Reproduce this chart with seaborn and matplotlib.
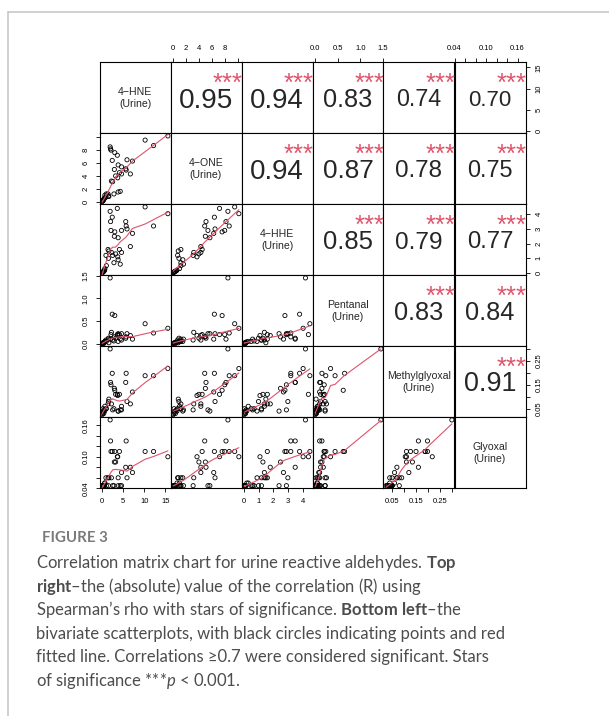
import numpy as np
import pandas as pd
import seaborn as sns
import matplotlib
matplotlib.use("Agg")
import matplotlib.pyplot as plt
from matplotlib.lines import Line2D

# urine aldehyde levels, one entry per sample
hne = [0.0, 0.1, 0.2, 0.3, 0.4, 0.5, 0.6, 0.2, 0.65, 0.9, 1.4, 1.5, 1.9, 2.0, 2.1, 2.2, 2.4, 2.5, 2.9, 3.0,
       3.2, 3.6, 3.7, 3.8, 3.8, 4.1, 4.6, 4.6, 5.6, 5.7, 5.9, 6.7, 7.2, 10.2, 12.2, 15.6, 1.0, 2.8, 4.3, 1.6]
one = [0.0, 0.1, 0.2, 0.3, 0.35, 0.5, 0.6, 0.15, 1.0, 0.7, 1.2, 0.9, 8.5, 8.2, 8.0, 3.2, 6.4, 3.1, 5.0, 7.6,
       4.0, 7.2, 3.7, 5.7, 1.5, 4.5, 5.4, 4.3, 5.1, 4.9, 6.5, 4.3, 6.3, 9.55, 8.7, 10.2, 1.2, 1.2, 1.6, 0.8]
hhe = [0.02, 0.05, 0.08, 0.10, 0.12, 0.15, 0.20, 0.05, 0.3, 1.2, 1.6, 1.0, 4.2, 3.5, 2.9, 1.4, 3.8, 1.2, 2.5, 2.8,
       1.3, 4.4, 1.1, 2.4, 0.9, 1.6, 2.9, 1.4, 3.5, 3.2, 3.0, 1.8, 2.7, 4.5, 3.2, 4.04, 0.5, 0.7, 0.6, 1.5]
pent = [0.0, 0.01, 0.02, 0.0, 0.03, 0.02, 0.04, 0.01, 0.05, 0.08, 0.10, 0.12, 1.45, 0.10, 0.20, 0.25, 0.65, 0.08, 0.15, 0.62,
        0.12, 0.20, 0.18, 0.22, 0.05, 0.20, 0.22, 0.08, 0.12, 0.15, 0.22, 0.18, 0.10, 0.44, 0.235, 0.34, 0.05, 0.06, 0.10, 0.02]
mgly = [0.025, 0.030, 0.035, 0.040, 0.030, 0.045, 0.040, 0.050, 0.06, 0.05, 0.07, 0.08, 0.30, 0.16, 0.15, 0.07, 0.198, 0.045, 0.135, 0.127,
        0.11, 0.11, 0.105, 0.04, 0.04, 0.11, 0.045, 0.06, 0.16, 0.198, 0.08, 0.07, 0.12, 0.188, 0.188, 0.218, 0.05, 0.05, 0.045, 0.09]
gly = [0.045, 0.045, 0.045, 0.045, 0.045, 0.045, 0.05, 0.045, 0.05, 0.06, 0.06, 0.045, 0.17, 0.13, 0.11, 0.06, 0.11, 0.045, 0.09, 0.11,
       0.09, 0.10, 0.10, 0.045, 0.06, 0.11, 0.045, 0.07, 0.08, 0.13, 0.06, 0.08, 0.07, 0.11, 0.11, 0.10, 0.045, 0.045, 0.045, 0.06]

names = ["4\u2212HNE", "4\u2212ONE", "4\u2212HHE", "Pentanal", "Methylglyoxal", "Glyoxal"]

# spearman rho shown in the upper panels, row by row
rho = [[0.95, 0.94, 0.83, 0.74, 0.70],
       [0.94, 0.87, 0.78, 0.75],
       [0.85, 0.79, 0.77],
       [0.83, 0.84],
       [0.91]]
stars = "***"

ticks = [[0, 5, 10, 15],
         [0, 2, 4, 6, 8, 10],
         [0, 1, 2, 3, 4],
         [0.0, 0.5, 1.0, 1.5],
         [0.05, 0.10, 0.15, 0.20, 0.25, 0.30],
         [0.04, 0.06, 0.08, 0.10, 0.12, 0.14, 0.16]]
tick_labels = [["0", "5", "10", "15"],
               ["0", "2", "4", "6", "8", ""],
               ["0", "1", "2", "3", "4"],
               ["0.0", "0.5", "1.0", "1.5"],
               ["0.05", "", "0.15", "", "0.25", ""],
               ["0.04", "", "", "0.10", "", "", "0.16"]]

caption = [
    r"Correlation matrix chart for urine reactive aldehydes. $\mathbf{Top}$",
    r"$\mathbf{right}$" + "\u2013the (absolute) value of the correlation (R) using",
    "Spearman\u2019s rho with stars of significance. " + r"$\mathbf{Bottom\ left}$" + "\u2013the",
    "bivariate scatterplots, with black circles indicating points and red",
    "fitted line. Correlations \u22650.7 were considered significant. Stars",
    r"of significance ***$\mathit{p}$ < 0.001.",
]

df = pd.DataFrame(dict(zip(names, [hne, one, hhe, pent, mgly, gly])))


def lowess(x, y, f=2 / 3, iters=3):
    # same idea as R's lowess(), used by panel.smooth
    o = np.argsort(x, kind="stable")
    x = np.asarray(x, float)[o]
    y = np.asarray(y, float)[o]
    n = len(x)
    ns = max(min(int(round(f * n)), n), 2)
    rw = np.ones(n)
    ys = np.zeros(n)
    for k in range(iters + 1):
        for i in range(n):
            d = np.abs(x - x[i])
            h = max(np.sort(d)[ns - 1], 1e-12)
            u = np.clip(d / h, 0, 1)
            w = (1 - u ** 3) ** 3 * rw
            w[d > 0.999 * h] = 0
            sw = w.sum()
            if sw <= 0:
                ys[i] = y[i]
                continue
            xm = (w * x).sum() / sw
            ym = (w * y).sum() / sw
            sxx = (w * (x - xm) ** 2).sum()
            if sxx > 1e-12:
                b = (w * (x - xm) * (y - ym)).sum() / sxx
                ys[i] = ym + b * (x[i] - xm)
            else:
                ys[i] = ym
        res = y - ys
        cmad = 6 * np.median(np.abs(res))
        if cmad < 1e-7 * np.mean(np.abs(y)):
            break
        u = np.clip(res / cmad, -1, 1)
        rw = (1 - u ** 2) ** 2
    return x, ys


sns.set_style("white")
plt.rcParams["font.family"] = ["Liberation Sans", "DejaVu Sans"]
plt.rcParams["mathtext.fontset"] = "custom"
plt.rcParams["mathtext.rm"] = "Lato"
plt.rcParams["mathtext.bf"] = "Lato:bold"
plt.rcParams["mathtext.it"] = "Lato:italic"

W, H = 609, 716
fig = plt.figure(figsize=(W / 100, H / 100), dpi=100)
red = "#DF536B"

lims = []
for c in names:
    lo, hi = df[c].min(), df[c].max()
    pad = 0.04 * (hi - lo)
    lims.append((lo - pad, hi + pad))

x0, y0, ps = 99.5, 62.3, 71.0
base = 20.9
k = len(names)
for i in range(k):
    for j in range(k):
        ax = fig.add_axes([(x0 + j * ps) / W, 1 - (y0 + (i + 1) * ps) / H, ps / W, ps / H])
        ax.set_xlim(lims[j])
        ax.set_ylim(lims[i])
        for s in ax.spines.values():
            s.set_visible(True)
            s.set_color("black")
            s.set_linewidth(0.8)
        ax.set_xticks([])
        ax.set_yticks([])

        if i > j:
            sns.scatterplot(x=df[names[j]], y=df[names[i]], ax=ax, marker="o", s=9,
                            facecolors="none", edgecolor="black", linewidth=0.6)
            fx, fy = lowess(df[names[j]].values, df[names[i]].values)
            sns.lineplot(x=fx, y=fy, ax=ax, color=red, lw=0.8, sort=False, estimator=None)
        elif i == j:
            ax.text(0.5, 0.5, names[i] + "\n(Urine)", transform=ax.transAxes, ha="center",
                    va="center", fontsize=7.6, linespacing=1.3)
        else:
            r = rho[i][j - i - 1]
            fs = base * (r + 0.3) / 1.3
            ax.annotate(f"{r:.2f}", (0.5, 0.5), xycoords="axes fraction",
                        xytext=(0, -0.358 * fs), textcoords="offset points",
                        ha="center", va="baseline", fontsize=fs)
            ax.annotate(stars, (0.8, 0.8), xycoords="axes fraction",
                        xytext=(0, -0.575 * 18.5), textcoords="offset points",
                        ha="center", va="baseline", fontsize=18.5, color=red)
        ax.set_xlabel("")
        ax.set_ylabel("")

        tp = dict(length=3.2, width=0.6, pad=4.0, labelsize=5.5, colors="black", direction="out")
        if i == 0 and j % 2 == 1:
            ax.xaxis.set_ticks_position("top")
            ax.set_xticks(ticks[j])
            ax.set_xticklabels(tick_labels[j])
            ax.tick_params(axis="x", top=True, bottom=False, labeltop=True, labelbottom=False, **tp)
        if i == k - 1 and j % 2 == 0:
            ax.set_xticks(ticks[j])
            ax.set_xticklabels(tick_labels[j])
            ax.tick_params(axis="x", bottom=True, labelbottom=True, **tp)
        if j == 0 and i % 2 == 1:
            ax.set_yticks(ticks[i])
            ax.set_yticklabels(tick_labels[i], rotation=90, va="center")
            ax.tick_params(axis="y", left=True, labelleft=True, **tp)
        if j == k - 1 and i % 2 == 0:
            ax.yaxis.set_ticks_position("right")
            ax.set_yticks(ticks[i])
            ax.set_yticklabels(tick_labels[i], rotation=90, va="center")
            ax.tick_params(axis="y", right=True, left=False, labelright=True, labelleft=False, **tp)

# page frame of the figure panel
fig.add_artist(Line2D([8.3 / W, 8.3 / W], [0, 1 - 12.3 / H], color="#c4c4c4", lw=1.1))
fig.add_artist(Line2D([8.3 / W, 1], [1 - 12.3 / H, 1 - 12.3 / H], color="#c4c4c4", lw=1.1))

fig.text(41.5 / W, 1 - 542 / H, "FIGURE 3", family=["Lato", "DejaVu Sans"], weight="bold",
         fontsize=10.8, color="#7a7a7a", va="baseline")
for n, line in enumerate(caption):
    fig.text(36 / W, 1 - (568 + n * 23.6) / H, line, family=["Lato", "DejaVu Sans"],
             fontsize=12, color="#4d4d4d", va="baseline")

fig.savefig("out.png", dpi=100)
